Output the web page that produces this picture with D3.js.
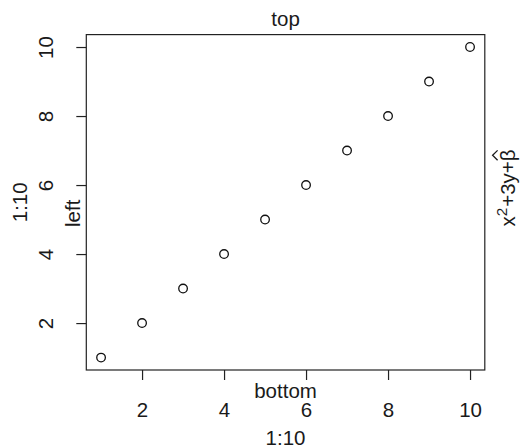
<!DOCTYPE html>
<html>
<head>
<meta charset="utf-8">
<script src="https://cdn.jsdelivr.net/npm/d3@7"></script>
<style>
  html, body { margin: 0; padding: 0; background: #fff; }
  svg { display: block; }
  text { font-family: "Liberation Sans", Arial, Helvetica, sans-serif; fill: #1a1a1a; }
</style>
</head>
<body>
<div id="chart"></div>
<script>
const xValues = [1, 2, 3, 4, 5, 6, 7, 8, 9, 10];
const yValues = [1, 2, 3, 4, 5, 6, 7, 8, 9, 10];
const xTicks = [2, 4, 6, 8, 10];
const yTicks = [2, 4, 6, 8, 10];
const xLabel = "1:10";
const yLabel = "1:10";
const marginTexts = { top: "top", left: "left", bottom: "bottom" };

const W = 520, H = 447;
const plot = { left: 86.3, right: 484.8, top: 34.6, bottom: 370 };
const fs = 20.5;

const svg = d3.select("#chart").append("svg").attr("width", W).attr("height", H);

const xExt = d3.extent(xValues), yExt = d3.extent(yValues);
const xPad = (xExt[1] - xExt[0]) * 0.04, yPad = (yExt[1] - yExt[0]) * 0.04;
const x = d3.scaleLinear().domain([xExt[0] - xPad, xExt[1] + xPad]).range([plot.left, plot.right]);
const y = d3.scaleLinear().domain([yExt[0] - yPad, yExt[1] + yPad]).range([plot.bottom, plot.top]);

// box
svg.append("rect")
  .attr("x", plot.left).attr("y", plot.top)
  .attr("width", plot.right - plot.left).attr("height", plot.bottom - plot.top)
  .attr("fill", "none").attr("stroke", "#222").attr("stroke-width", 1.2);

// bottom axis
const xAxis = d3.axisBottom(x).tickValues(xTicks).tickSize(10).tickPadding(0).tickFormat(d3.format("d"));
const gx = svg.append("g").attr("transform", `translate(0,${plot.bottom})`).call(xAxis);
gx.select(".domain").remove();
gx.selectAll(".tick line").attr("stroke", "#222").attr("stroke-width", 1.2);
gx.selectAll(".tick text").attr("font-size", fs).attr("y", 47).attr("dy", null)
  .style("font-family", "'Liberation Sans', Arial, sans-serif").attr("fill", "#1a1a1a");

// left axis
const yAxis = d3.axisLeft(y).tickValues(yTicks).tickSize(10).tickFormat(d3.format("d"));
const gy = svg.append("g").attr("transform", `translate(${plot.left},0)`).call(yAxis);
gy.select(".domain").remove();
gy.selectAll(".tick line").attr("stroke", "#222").attr("stroke-width", 1.2);
gy.selectAll(".tick text")
  .attr("x", null).attr("dy", null).attr("text-anchor", "middle")
  .attr("transform", "translate(-33.5,0) rotate(-90)")
  .attr("font-size", fs)
  .style("font-family", "'Liberation Sans', Arial, sans-serif").attr("fill", "#1a1a1a");

// points
svg.append("g").selectAll("circle").data(xValues.map((d, i) => [d, yValues[i]])).join("circle")
  .attr("cx", d => x(d[0])).attr("cy", d => y(d[1])).attr("r", 4.3)
  .attr("fill", "none").attr("stroke", "#111").attr("stroke-width", 1.3);

// axis titles
svg.append("text").attr("x", (plot.left + plot.right) / 2).attr("y", 445)
  .attr("text-anchor", "middle").attr("font-size", fs).text(xLabel);
svg.append("text").attr("transform", `translate(26.7,${(plot.top + plot.bottom) / 2}) rotate(-90)`)
  .attr("text-anchor", "middle").attr("font-size", fs).text(yLabel);

// mtext
svg.append("text").attr("x", (plot.left + plot.right) / 2).attr("y", 26)
  .attr("text-anchor", "middle").attr("font-size", fs).text(marginTexts.top);
svg.append("text").attr("x", (plot.left + plot.right) / 2).attr("y", 398)
  .attr("text-anchor", "middle").attr("font-size", fs).text(marginTexts.bottom);
svg.append("text").attr("transform", `translate(80,${(plot.top + plot.bottom) / 2 + 11}) rotate(-90)`)
  .attr("text-anchor", "middle").attr("font-size", fs).text(marginTexts.left);

// right side expression: x^2+3y+beta-hat
const rg = svg.append("g").attr("transform", `translate(515,188) rotate(-90)`);
const inner = rg.append("g");
const parts = [
  { t: "x", size: fs, dy: 0 },
  { t: "2", size: fs * 0.75, dy: -8 },
  { t: "+3y+", size: fs, dy: 0 },
  { t: "\u03B2", size: fs, dy: 0, hat: true }
];
let cx = 0;
parts.forEach(p => {
  const t = inner.append("text").attr("x", cx).attr("y", p.dy).attr("font-size", p.size).text(p.t);
  const w = t.node().getComputedTextLength();
  if (p.hat) {
    const top = -fs * 0.8;
    inner.append("path")
      .attr("d", `M${cx + 1},${top - 1} L${cx + w / 2},${top - 6} L${cx + w - 1},${top - 1}`)
      .attr("fill", "none").attr("stroke", "#1a1a1a").attr("stroke-width", 1.3);
  }
  cx += w + (p.t === "2" ? 1 : 0);
});
inner.attr("transform", `translate(${-cx / 2},0)`);
</script>
</body>
</html>
